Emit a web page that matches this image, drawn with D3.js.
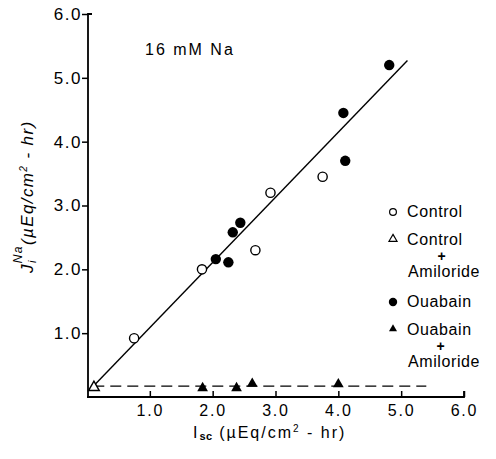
<!DOCTYPE html>
<html>
<head>
<meta charset="utf-8">
<script src="https://cdn.jsdelivr.net/npm/d3@7"></script>
<style>
  body { margin: 0; background: #fff; }
  text { font-family: "Liberation Sans", Arial, sans-serif; fill: #000; }
</style>
</head>
<body>
<svg id="chart" width="496" height="459"></svg>
<script>
// values
const xTicks = [1, 2, 3, 4, 5, 6];
const yTicks = [1, 2, 3, 4, 5, 6];
const control = [[0.75, 0.92], [1.83, 2.0], [2.68, 2.30], [2.92, 3.2], [3.75, 3.45]];
const ouabain = [[2.05, 2.16], [2.25, 2.11], [2.32, 2.58], [2.44, 2.73], [4.08, 4.45], [4.11, 3.7], [4.81, 5.2]];
const controlAmil = [[0.11, 0.15]];
const ouabainAmil = [[1.84, 0.14], [2.38, 0.14], [2.63, 0.21], [4.0, 0.2]];
const fitLine = [[0.1, 0.17], [5.1, 5.27]];
const amilLine = [[0.1, 0.17], [5.4, 0.17]];

var svg = d3.select("#chart");

var x = d3.scaleLinear().domain([0, 6]).range([87, 464]);
var y = d3.scaleLinear().domain([0, 6]).range([397, 14]);

// axes
svg.append("g")
  .attr("transform", "translate(0,397)")
  .call(d3.axisBottom(x).tickValues(xTicks).tickSize(-6).tickPadding(8).tickFormat(d3.format(".1f")))
  .call(g => g.select(".domain").attr("d", "M" + x(0) + ",0H" + x(6) + "V-6").attr("stroke-width", 1.8))
  .call(g => g.selectAll(".tick line").attr("stroke-width", 1.5))
  .call(g => g.selectAll(".tick text").attr("font-size", 16).attr("dy", "0.71em")
    .style("font-family", "Liberation Sans, Arial, sans-serif").attr("letter-spacing", 1.8));

svg.append("g")
  .attr("transform", "translate(88,0)")
  .call(d3.axisLeft(y).tickValues(yTicks).tickSize(6).tickPadding(0).tickFormat(d3.format(".1f")))
  .call(g => g.select(".domain").attr("d", "M4," + y(6) + "H0V" + y(0)).attr("stroke-width", 1.8))
  .call(g => g.selectAll(".tick line").attr("stroke-width", 1.5))
  .call(g => g.selectAll(".tick text").attr("font-size", 17)
    .style("font-family", "Liberation Sans, Arial, sans-serif").attr("letter-spacing", 1.5));

// lines
var line = d3.line().x(d => x(d[0])).y(d => y(d[1]));

svg.append("path").datum(fitLine)
  .attr("d", line).attr("fill", "none").attr("stroke", "#000").attr("stroke-width", 1.4);

svg.append("path").datum(amilLine)
  .attr("d", line).attr("fill", "none").attr("stroke", "#000").attr("stroke-width", 1.4)
  .attr("stroke-dasharray", "11,6");

// points
var tri = d3.symbol().type(d3.symbolTriangle).size(50);

svg.selectAll(".ctl").data(control).enter().append("circle")
  .attr("cx", d => x(d[0])).attr("cy", d => y(d[1])).attr("r", 4.6)
  .attr("fill", "#fff").attr("stroke", "#000").attr("stroke-width", 1.4);

svg.selectAll(".oua").data(ouabain).enter().append("circle")
  .attr("cx", d => x(d[0])).attr("cy", d => y(d[1])).attr("r", 5.2)
  .attr("fill", "#000");

svg.selectAll(".ctlA").data(controlAmil).enter().append("path")
  .attr("d", tri).attr("transform", d => "translate(" + x(d[0]) + "," + y(d[1]) + ")")
  .attr("fill", "#fff").attr("stroke", "#000").attr("stroke-width", 1.4);

svg.selectAll(".ouaA").data(ouabainAmil).enter().append("path")
  .attr("d", tri).attr("transform", d => "translate(" + x(d[0]) + "," + y(d[1]) + ")")
  .attr("fill", "#000");

// annotation
svg.append("text").attr("x", 145).attr("y", 55).attr("font-size", 16)
  .attr("letter-spacing", 2).text("16 mM Na");

// legend
var legTri = d3.symbol().type(d3.symbolTriangle).size(28);
var leg = svg.append("g").attr("font-size", 16).attr("letter-spacing", 0.6);

leg.append("circle").attr("cx", 393).attr("cy", 212).attr("r", 3.4)
  .attr("fill", "#fff").attr("stroke", "#000").attr("stroke-width", 1.2);
leg.append("text").attr("x", 407).attr("y", 217).text("Control");

leg.append("path").attr("d", legTri).attr("transform", "translate(393,239)")
  .attr("fill", "#fff").attr("stroke", "#000").attr("stroke-width", 1.2);
leg.append("text").attr("x", 407).attr("y", 245).text("Control");
leg.append("text").attr("x", 442).attr("y", 261).attr("text-anchor", "middle")
  .attr("font-size", 14).attr("font-weight", "bold").text("+");
leg.append("text").attr("x", 408).attr("y", 277).text("Amiloride");

leg.append("circle").attr("cx", 393).attr("cy", 302).attr("r", 4.2).attr("fill", "#000");
leg.append("text").attr("x", 407).attr("y", 307).text("Ouabain");

leg.append("path").attr("d", legTri).attr("transform", "translate(393,329)").attr("fill", "#000");
leg.append("text").attr("x", 407).attr("y", 335).text("Ouabain");
leg.append("text").attr("x", 441).attr("y", 351).attr("text-anchor", "middle")
  .attr("font-size", 14).attr("font-weight", "bold").text("+");
leg.append("text").attr("x", 408).attr("y", 367).text("Amiloride");

// x axis title
var xt = svg.append("text").attr("x", 193).attr("y", 438).attr("font-size", 16).attr("letter-spacing", 2);
xt.append("tspan").text("I");
xt.append("tspan").attr("font-size", 11).attr("font-weight", "bold").attr("dy", 2).attr("letter-spacing", 0.5).text("sc");
xt.append("tspan").attr("dy", -2).text(" (\u00b5Eq/cm");
xt.append("tspan").attr("font-size", 10).attr("dy", -6).text("2");
xt.append("tspan").attr("dy", 6).text(" - hr)");

// y axis title
var yt = svg.append("text").attr("transform", "translate(33,273) rotate(-90)")
  .attr("font-size", 17).attr("font-style", "italic").attr("letter-spacing", 1.4);
yt.append("tspan").text("J");
yt.append("tspan").attr("font-size", 11).attr("dy", 3).text("i");
yt.append("tspan").attr("font-size", 12).attr("dx", -4).attr("dy", -14).text("Na");
yt.append("tspan").attr("dy", 11).text("(\u00b5Eq/cm");
yt.append("tspan").attr("font-size", 10).attr("dy", -6).text("2");
yt.append("tspan").attr("dy", 6).text(" - hr)");
</script>
</body>
</html>
